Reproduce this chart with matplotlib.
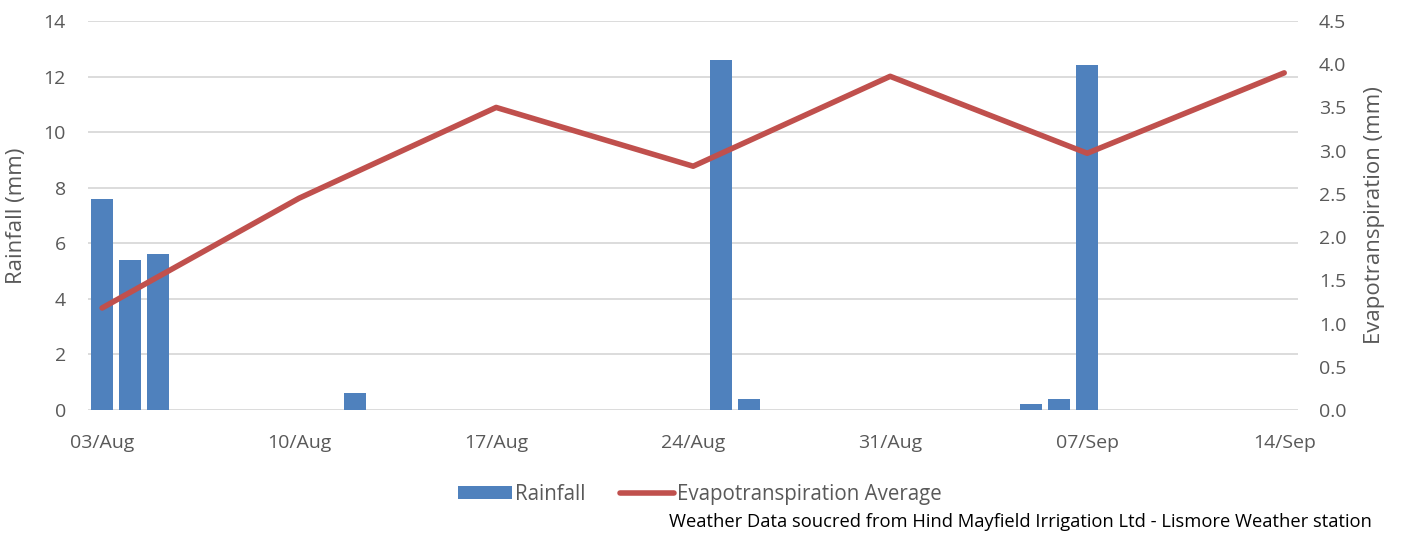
import numpy as np
import pandas as pd
import matplotlib
matplotlib.use('Agg')
import matplotlib.pyplot as plt
import matplotlib.dates as mdates
from matplotlib.ticker import FormatStrFormatter

plt.rcParams['font.family'] = ['Open Sans', 'DejaVu Sans']

# daily rainfall (mm)
rain_dates = ['2023-08-03', '2023-08-04', '2023-08-05', '2023-08-12', '2023-08-25',
              '2023-08-26', '2023-09-05', '2023-09-06', '2023-09-07']
rain_mm = [7.6, 5.4, 5.6, 0.6, 12.6, 0.4, 0.2, 0.4, 12.4]

# weekly evapotranspiration average (mm)
et_dates = ['2023-08-03', '2023-08-10', '2023-08-17', '2023-08-24',
            '2023-08-31', '2023-09-07', '2023-09-14']
et_mm = [1.18, 2.45, 3.5, 2.82, 3.86, 2.97, 3.9]

rain_x = pd.to_datetime(rain_dates)
et_x = pd.to_datetime(et_dates)

grey = '#595959'
fig = plt.figure(figsize=(14.04, 5.33), dpi=100)
ax = fig.add_axes([0.0627, 0.2308, 0.862, 0.7298])
ax2 = ax.twinx()

ax.bar(rain_x, rain_mm, width=0.78, color='#4F81BD', label='Rainfall', zorder=3)
ax2.plot(et_x, et_mm, color='#C0504D', lw=4.0, solid_capstyle='round',
         label='Evapotranspiration Average', zorder=4)

start = pd.Timestamp('2023-08-03')
ax.set_xlim(start - pd.Timedelta(hours=12), start + pd.Timedelta(days=42, hours=12))
ax.set_xticks(et_x)
ax.xaxis.set_major_formatter(mdates.DateFormatter('%d/%b'))

ax.set_ylim(0, 14)
ax.set_yticks(np.arange(0, 15, 2))
ax2.set_ylim(0, 4.5)
ax2.set_yticks(np.arange(0, 4.51, 0.5))
ax2.yaxis.set_major_formatter(FormatStrFormatter('%.1f'))

ax.grid(axis='y', color='#D9D9D9', lw=1.3, zorder=0)
ax.set_axisbelow(True)
for a in (ax, ax2):
    for s in a.spines.values():
        s.set_visible(False)
    a.tick_params(length=0, colors=grey, labelsize=14)
ax.tick_params(axis='x', pad=17)
ax.tick_params(axis='y', pad=16)
ax2.tick_params(axis='y', pad=15)

ax.set_ylabel('Rainfall (mm)', color=grey, fontsize=16)
ax2.set_ylabel('Evapotranspiration (mm)', color=grey, fontsize=16)
ax.yaxis.set_label_coords(-0.0587, 0.5)
ax2.yaxis.set_label_coords(1.0628, 0.5)
ax.yaxis.label.set_va('center')
ax2.yaxis.label.set_va('center')

h1, l1 = ax.get_legend_handles_labels()
h2, l2 = ax2.get_legend_handles_labels()
fig.legend(h1 + h2, l1 + l2, loc='center', bbox_to_anchor=(0.4986, 0.073), ncol=2,
           frameon=False, fontsize=14.8, labelcolor=grey, handlelength=2.6,
           handleheight=0.62, handletextpad=0.15, columnspacing=1.7)

fig.text(0.977, 0.02, 'Weather Data soucred from Hind Mayfield Irrigation Ltd - Lismore Weather station',
         ha='right', va='center', fontsize=13.2, color='black')

fig.savefig('out.png', dpi=100)
